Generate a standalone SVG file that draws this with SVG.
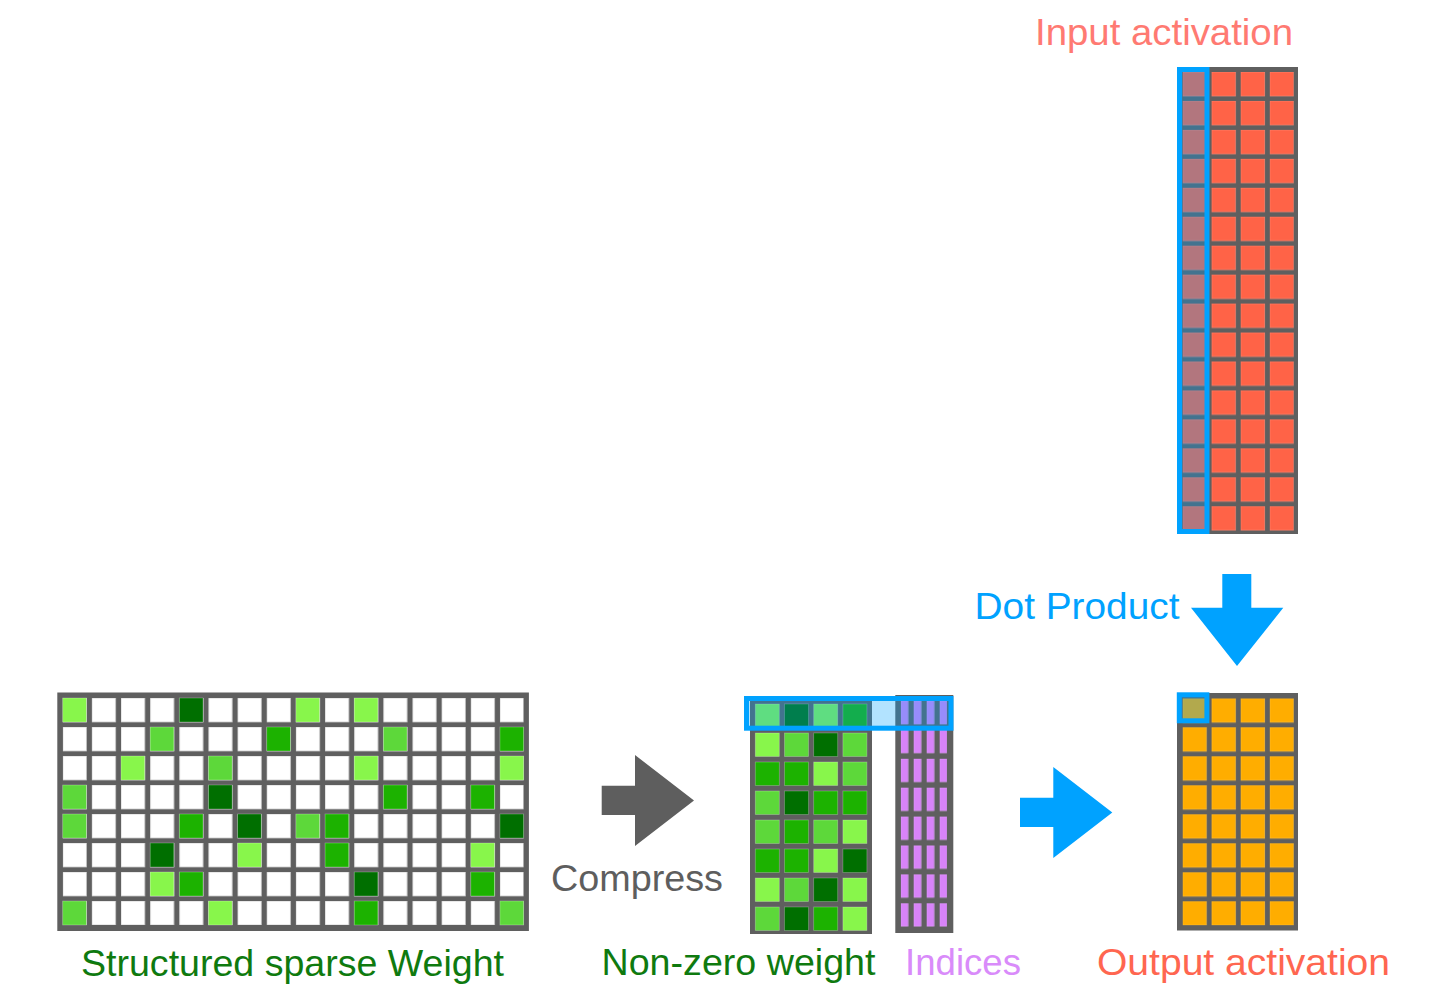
<svg xmlns="http://www.w3.org/2000/svg" width="1435" height="984" viewBox="0 0 1435 984">
  <style>
    .frame { fill: #5f5f5f; }
    .l1 { fill: #88f64b; }
    .l2 { fill: #5dd83a; }
    .l3 { fill: #1cb200; }
    .l4 { fill: #006f00; }
    .cell { stroke: #ffffff; stroke-opacity: 0.3; stroke-width: 0.8; }
    .hl { fill: #00a2ff; fill-opacity: 0.3; stroke: #00a2ff; stroke-width: 5; }
    .label { font-family: "Liberation Sans", Arial, Helvetica, sans-serif; font-size: 36px; }
  </style>
  <defs>
    <!-- repeating cell tiles for the uniform matrices -->
    <pattern id="tileWhite" patternUnits="userSpaceOnUse" x="62.7" y="698" width="29.15" height="29">
      <rect x="0" y="0" width="23.7" height="24" fill="#ffffff" stroke="#c8c8c8" stroke-width="0.8"/>
    </pattern>
    <pattern id="tileRed" patternUnits="userSpaceOnUse" x="1182.5" y="72" width="29.1" height="28.95">
      <rect x="0" y="0" width="24" height="24" fill="#ff6347" stroke="#ff8a75" stroke-width="0.6"/>
    </pattern>
    <pattern id="tileOrange" patternUnits="userSpaceOnUse" x="1182.5" y="698.3" width="29.1" height="29">
      <rect x="0" y="0" width="24" height="24" fill="#ffad00" stroke="#ffc040" stroke-width="0.6"/>
    </pattern>
    <pattern id="tilePurple" patternUnits="userSpaceOnUse" x="900.7" y="701" width="13" height="28.9">
      <rect x="0" y="0" width="7.3" height="23" fill="#d883f9" stroke="#e3a6fb" stroke-width="0.5"/>
    </pattern>
  </defs>

  <rect width="1435" height="984" fill="#ffffff"/>

  <!-- sparse weight matrix: 16 x 8 -->
  <g id="sparse-weight">
    <rect class="frame" x="57.3" y="692.5" width="471.6" height="238.5"/>
    <rect x="62.7" y="698" width="461" height="227" fill="url(#tileWhite)"/>
    <g class="cell">
      <rect class="l1" x="62.7" y="698" width="23.7" height="24"/>
      <rect class="l4" x="179.3" y="698" width="23.7" height="24"/>
      <rect class="l1" x="295.9" y="698" width="23.7" height="24"/>
      <rect class="l1" x="354.2" y="698" width="23.7" height="24"/>

      <rect class="l2" x="150.15" y="727" width="23.7" height="24"/>
      <rect class="l3" x="266.75" y="727" width="23.7" height="24"/>
      <rect class="l2" x="383.35" y="727" width="23.7" height="24"/>
      <rect class="l3" x="499.95" y="727" width="23.7" height="24"/>

      <rect class="l1" x="121" y="756" width="23.7" height="24"/>
      <rect class="l2" x="208.45" y="756" width="23.7" height="24"/>
      <rect class="l1" x="354.2" y="756" width="23.7" height="24"/>
      <rect class="l1" x="499.95" y="756" width="23.7" height="24"/>

      <rect class="l2" x="62.7" y="785" width="23.7" height="24"/>
      <rect class="l4" x="208.45" y="785" width="23.7" height="24"/>
      <rect class="l3" x="383.35" y="785" width="23.7" height="24"/>
      <rect class="l3" x="470.8" y="785" width="23.7" height="24"/>

      <rect class="l2" x="62.7" y="814" width="23.7" height="24"/>
      <rect class="l3" x="179.3" y="814" width="23.7" height="24"/>
      <rect class="l4" x="237.6" y="814" width="23.7" height="24"/>
      <rect class="l2" x="295.9" y="814" width="23.7" height="24"/>
      <rect class="l3" x="325.05" y="814" width="23.7" height="24"/>
      <rect class="l4" x="499.95" y="814" width="23.7" height="24"/>

      <rect class="l4" x="150.15" y="843" width="23.7" height="24"/>
      <rect class="l1" x="237.6" y="843" width="23.7" height="24"/>
      <rect class="l3" x="325.05" y="843" width="23.7" height="24"/>
      <rect class="l1" x="470.8" y="843" width="23.7" height="24"/>

      <rect class="l1" x="150.15" y="872" width="23.7" height="24"/>
      <rect class="l3" x="179.3" y="872" width="23.7" height="24"/>
      <rect class="l4" x="354.2" y="872" width="23.7" height="24"/>
      <rect class="l3" x="470.8" y="872" width="23.7" height="24"/>

      <rect class="l2" x="62.7" y="901" width="23.7" height="24"/>
      <rect class="l1" x="208.45" y="901" width="23.7" height="24"/>
      <rect class="l3" x="354.2" y="901" width="23.7" height="24"/>
      <rect class="l2" x="499.95" y="901" width="23.7" height="24"/>
    </g>
    <text class="label" x="81" y="976" fill="#0f7a0f" textLength="423" lengthAdjust="spacingAndGlyphs">Structured sparse Weight</text>
  </g>

  <!-- compressed non-zero weights: 4 x 8 -->
  <g id="nonzero-weight">
    <rect class="frame" x="750" y="699" width="122" height="235"/>
    <g class="cell">
      <rect class="l1" x="755.3" y="704" width="24" height="23.5"/>
      <rect class="l4" x="784.5" y="704" width="24" height="23.5"/>
      <rect class="l1" x="813.7" y="704" width="24" height="23.5"/>
      <rect class="l3" x="842.9" y="704" width="24" height="23.5"/>

      <rect class="l1" x="755.3" y="733" width="24" height="23.5"/>
      <rect class="l2" x="784.5" y="733" width="24" height="23.5"/>
      <rect class="l4" x="813.7" y="733" width="24" height="23.5"/>
      <rect class="l2" x="842.9" y="733" width="24" height="23.5"/>

      <rect class="l3" x="755.3" y="762" width="24" height="23.5"/>
      <rect class="l3" x="784.5" y="762" width="24" height="23.5"/>
      <rect class="l1" x="813.7" y="762" width="24" height="23.5"/>
      <rect class="l2" x="842.9" y="762" width="24" height="23.5"/>

      <rect class="l2" x="755.3" y="791" width="24" height="23.5"/>
      <rect class="l4" x="784.5" y="791" width="24" height="23.5"/>
      <rect class="l3" x="813.7" y="791" width="24" height="23.5"/>
      <rect class="l3" x="842.9" y="791" width="24" height="23.5"/>

      <rect class="l2" x="755.3" y="820" width="24" height="23.5"/>
      <rect class="l3" x="784.5" y="820" width="24" height="23.5"/>
      <rect class="l2" x="813.7" y="820" width="24" height="23.5"/>
      <rect class="l1" x="842.9" y="820" width="24" height="23.5"/>

      <rect class="l3" x="755.3" y="849" width="24" height="23.5"/>
      <rect class="l3" x="784.5" y="849" width="24" height="23.5"/>
      <rect class="l1" x="813.7" y="849" width="24" height="23.5"/>
      <rect class="l4" x="842.9" y="849" width="24" height="23.5"/>

      <rect class="l1" x="755.3" y="878" width="24" height="23.5"/>
      <rect class="l2" x="784.5" y="878" width="24" height="23.5"/>
      <rect class="l4" x="813.7" y="878" width="24" height="23.5"/>
      <rect class="l1" x="842.9" y="878" width="24" height="23.5"/>

      <rect class="l2" x="755.3" y="907" width="24" height="23.5"/>
      <rect class="l4" x="784.5" y="907" width="24" height="23.5"/>
      <rect class="l3" x="813.7" y="907" width="24" height="23.5"/>
      <rect class="l1" x="842.9" y="907" width="24" height="23.5"/>
    </g>
    <text class="label" x="601.5" y="975" fill="#0f7a0f" textLength="274" lengthAdjust="spacingAndGlyphs">Non-zero weight</text>
  </g>

  <!-- column indices: 4 x 8 -->
  <g id="indices">
    <rect class="frame" x="895.3" y="695" width="58" height="238"/>
    <rect x="900.7" y="701" width="46.3" height="226" fill="url(#tilePurple)"/>
    <text class="label" x="905" y="975" fill="#d98bfa" textLength="116" lengthAdjust="spacingAndGlyphs">Indices</text>
  </g>

  <!-- input activation: 4 x 16 -->
  <g id="input-activation">
    <rect class="frame" x="1177" y="67" width="121" height="467"/>
    <rect x="1182.5" y="72" width="111.3" height="459" fill="url(#tileRed)"/>
    <text class="label" x="1035" y="45" fill="#ff7a72" textLength="258" lengthAdjust="spacingAndGlyphs">Input activation</text>
  </g>

  <!-- output activation: 4 x 8 -->
  <g id="output-activation">
    <rect class="frame" x="1177" y="693" width="121" height="237.5"/>
    <rect x="1182.5" y="698.3" width="111.3" height="227" fill="url(#tileOrange)"/>
    <text class="label" x="1097" y="975" fill="#ff6650" textLength="293" lengthAdjust="spacingAndGlyphs">Output activation</text>
  </g>

  <!-- highlighted operands of one dot product -->
  <g id="highlights">
    <rect class="hl" x="1179.5" y="69.5" width="27.5" height="462"/>
    <rect class="hl" x="746.5" y="698.5" width="204.5" height="29.7"/>
    <rect class="hl" x="1179.3" y="694.8" width="27.6" height="26"/>
  </g>

  <!-- block arrows -->
  <g id="connectors">
    <polygon points="601.7,785.7 635,785.7 635,755 694,800.5 635,846 635,815 601.7,815" fill="#5e5e5e"/>
    <polygon points="1020,797.7 1053.3,797.7 1053.3,767 1112.3,812.5 1053.3,858 1053.3,827 1020,827" fill="#00a2ff"/>
    <polygon points="1222.3,574 1251.3,574 1251.3,607.7 1283.3,607.7 1237,666 1191,607.7 1222.3,607.7" fill="#00a2ff"/>
    <text class="label" x="551" y="891" fill="#5e5e5e" textLength="172" lengthAdjust="spacingAndGlyphs">Compress</text>
    <text class="label" x="974.5" y="619" fill="#00a2ff" textLength="205" lengthAdjust="spacingAndGlyphs">Dot Product</text>
  </g>
</svg>
